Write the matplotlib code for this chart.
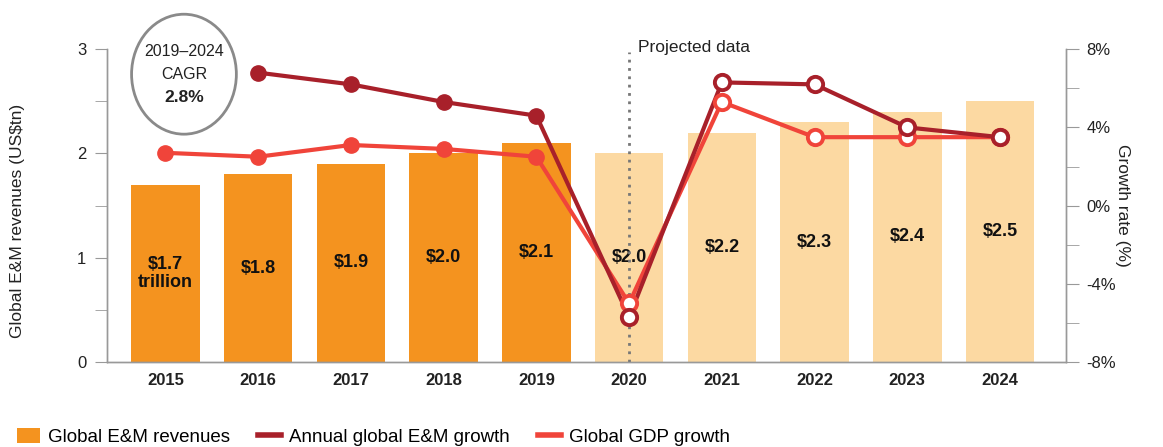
import matplotlib.pyplot as plt
from matplotlib.patches import Ellipse, Patch
from matplotlib.lines import Line2D
from matplotlib.ticker import MultipleLocator, FuncFormatter

years = ['2015', '2016', '2017', '2018', '2019', '2020', '2021', '2022', '2023', '2024']
revenues = [1.7, 1.8, 1.9, 2.0, 2.1, 2.0, 2.2, 2.3, 2.4, 2.5]
bar_labels = ['$1.7\ntrillion', '$1.8', '$1.9', '$2.0', '$2.1', '$2.0', '$2.2', '$2.3', '$2.4', '$2.5']
em_growth = [None, 6.8, 6.2, 5.3, 4.6, -5.7, 6.3, 6.2, 4.0, 3.5]
gdp_growth = [2.7, 2.5, 3.1, 2.9, 2.5, -5.0, 5.3, 3.5, 3.5, 3.5]
first_projected = 5

ORANGE = '#f4931f'
LIGHT = '#fcd9a2'
DARK_RED = '#a8202a'
RED = '#f0443a'
GREY = '#999999'
TXT = '#222222'

plt.rcParams['font.family'] = ['Liberation Sans', 'DejaVu Sans']

fig = plt.figure(figsize=(11.63, 4.47), dpi=100)
ax = fig.add_axes([0.092, 0.19, 0.8245, 0.70])
ax2 = ax.twinx()

x = list(range(len(years)))
colors = [ORANGE if i < first_projected else LIGHT for i in x]
ax.bar(x, revenues, width=0.74, color=colors, zorder=2)
for i, (v, lab) in enumerate(zip(revenues, bar_labels)):
    ax.text(i, v / 2, lab, ha='center', va='center', fontsize=13, fontweight='bold',
            color='#111111', linespacing=1.1, zorder=3)

ax.set_xlim(-0.63, 9.71)
ax.set_ylim(0, 3)
ax.yaxis.set_major_locator(MultipleLocator(1))
ax.yaxis.set_minor_locator(MultipleLocator(0.5))
ax.set_xticks(x)
ax.set_xticklabels(years, fontsize=12, fontweight='bold', color=TXT)
ax.tick_params(axis='x', length=0, pad=8)
ax.tick_params(axis='y', which='both', length=9, color=GREY, labelsize=12, labelcolor=TXT, pad=6)
ax.set_ylabel('Global E&M revenues (US$tn)', fontsize=12.5, color=TXT, va='center')
ax.yaxis.set_label_coords(-0.093, 0.45)

for a in (ax, ax2):
    a.spines['top'].set_visible(False)
    for s in ('left', 'right', 'bottom'):
        a.spines[s].set_color(GREY)
        a.spines[s].set_linewidth(1.0)

ax2.set_ylim(-8, 8)
ax2.yaxis.set_major_locator(MultipleLocator(4))
ax2.yaxis.set_minor_locator(MultipleLocator(2))
ax2.yaxis.set_major_formatter(FuncFormatter(lambda v, p: f'{v:.0f}%'))
ax2.tick_params(axis='y', which='both', length=9, color=GREY, labelsize=12, labelcolor=TXT, pad=6)
ax2.set_ylabel('Growth rate (%)', fontsize=12.5, color=TXT, rotation=-90, labelpad=10)


def draw_series(vals, color):
    pts = [(i, v) for i, v in enumerate(vals) if v is not None]
    ax2.plot([p[0] for p in pts], [p[1] for p in pts], color=color, lw=3, zorder=4)
    hist = [p for p in pts if p[0] < first_projected]
    proj = [p for p in pts if p[0] >= first_projected]
    ax2.plot([p[0] for p in hist], [p[1] for p in hist], 'o', color=color, ms=11, zorder=5)
    ax2.plot([p[0] for p in proj], [p[1] for p in proj], 'o', mfc='white', mec=color,
             mew=2.8, ms=11, zorder=5)


draw_series(gdp_growth, RED)
draw_series(em_growth, DARK_RED)

# projected data marker
ax.axvline(first_projected, ymin=0, ymax=0.99, color='#777777', lw=2, ls=(0, (1, 2)), zorder=3)
ax.text(first_projected + 0.1, 3.02, 'Projected data', fontsize=12.5,
        color=TXT, ha='left', va='center')

# CAGR bubble
ax.add_patch(Ellipse((0.2, 2.76), 1.13, 1.15, facecolor='white', edgecolor='#8a8a8a',
                     lw=2, clip_on=False, zorder=6))
ax.text(0.2, 2.98, '2019–2024', ha='center', va='center', fontsize=11.5,
        color=TXT, zorder=7)
ax.text(0.2, 2.76, 'CAGR', ha='center', va='center', fontsize=11.5,
        color=TXT, zorder=7)
ax.text(0.2, 2.54, '2.8%', ha='center', va='center', fontsize=12.5, fontweight='bold',
        color=TXT, zorder=7)

handles = [
    Patch(facecolor=ORANGE, edgecolor='none', label='Global E&M revenues'),
    Line2D([], [], color=DARK_RED, lw=4, label='Annual global E&M growth'),
    Line2D([], [], color=RED, lw=4, label='Global GDP growth'),
]
fig.legend(handles=handles, loc='lower left', bbox_to_anchor=(0.0, -0.035), ncol=3,
           frameon=False, handlelength=1.25, handleheight=0.9, columnspacing=1.5,
           handletextpad=0.4, prop={'size': 13.5})

fig.savefig('out.png', dpi=100)
